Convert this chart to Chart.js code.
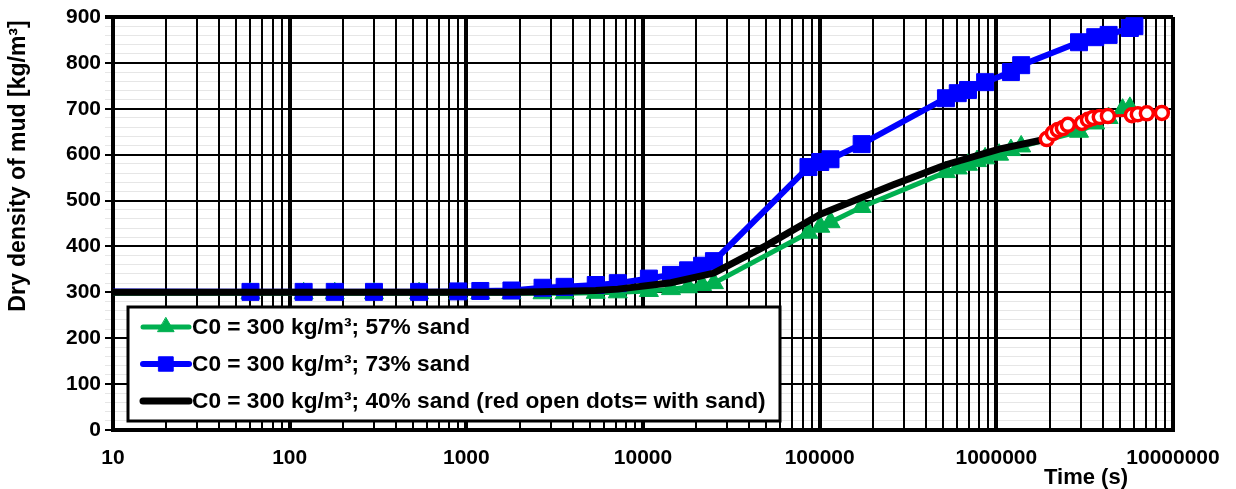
<!DOCTYPE html>
<html>
<head>
<meta charset="utf-8">
<script src="https://cdn.jsdelivr.net/npm/chart.js@4.4.1/dist/chart.umd.min.js"></script>
<style>
    html, body { margin: 0; padding: 0; background: #fff; }
</style>
</head>
<body>
<canvas id="densityChart" width="1236" height="489"></canvas>
<script>
const FONT = '"Liberation Sans", Arial, sans-serif';

// x axis (log) decades and labels
const xDecades = [10, 100, 1000, 10000, 100000, 1000000, 10000000];
const xTickLabels = ['10', '100', '1000', '10000', '100000', '1000000', '10000000'];

// 57% sand (green triangles)
const sand57Time = [1, 60, 120, 180, 300, 540, 900, 1200, 1800, 2700, 3600, 5400, 7200, 10800, 14400, 18000, 21600, 25200,
    86400, 100800, 115200, 172800, 518400, 604800, 691200, 777600, 864000, 1036800, 1209600, 1382400,
    2937600, 3628800, 4320000, 5184000, 5702400];
const sand57Density = [298, 298, 298, 298, 298, 298, 298, 298, 298, 298, 298, 299, 300, 303, 307, 311, 316, 320,
    430, 443, 453, 486, 562, 570, 578, 586, 592, 600, 610, 618,
    650, 668, 680, 698, 702];

// 73% sand (blue squares)
const sand73Time = [1, 60, 120, 180, 300, 540, 900, 1200, 1800, 2700, 3600, 5400, 7200, 10800, 14400, 18000, 21600, 25200,
    86400, 100800, 115200, 172800, 518400, 604800, 691200, 864000, 1209600, 1382400,
    2937600, 3628800, 4320000, 5702400, 6048000];
const sand73Density = [303, 301, 301, 301, 301, 301, 302, 303, 304, 310, 312, 316, 320, 330, 338, 348, 358, 368,
    573, 584, 590, 623, 723, 734, 741, 758, 780, 795,
    845, 856, 861, 876, 880];

// 40% sand (black line)
const sand40Time = [10, 1800, 2700, 5400, 7200, 14400, 25200, 50400, 100800, 259200, 518400, 1036800, 1814400];
const sand40Density = [300, 300, 301, 304, 307, 321, 342, 403, 470, 534, 578, 612, 632];

// 40% sand with sand (red open dots)
const withSandTime = [1930000, 2090000, 2230000, 2380000, 2540000, 3050000, 3300000, 3520000, 3850000, 4280000,
    5850000, 6320000, 7110000, 8650000];
const withSandDensity = [634, 647, 654, 658, 665, 669, 676, 680, 682, 684, 686, 688, 690, 691];

const toPoints = (xs, ys) => xs.map((x, i) => ({ x: x, y: ys[i] }));

const overlayPlugin = {
    id: 'overlay',
    afterDatasetsDraw(chart) {
        const ctx = chart.ctx;
        ctx.save();
        // legend box inside plot
        ctx.fillStyle = '#fff';
        ctx.fillRect(128, 307, 652, 114);
        ctx.lineWidth = 3;
        ctx.strokeStyle = '#000';
        ctx.strokeRect(128, 307, 652, 114);

        const rows = [327, 364, 401];
        const items = chart.data.datasets.filter(d => !d.hideInLegend);
        ctx.font = 'bold 22.7px ' + FONT;
        ctx.textBaseline = 'middle';
        ctx.textAlign = 'left';
        items.forEach((ds, i) => {
            const y = rows[i];
            ctx.beginPath();
            ctx.lineCap = 'round';
            ctx.lineWidth = ds.borderWidth;
            ctx.strokeStyle = ds.borderColor;
            ctx.moveTo(143, y);
            ctx.lineTo(189, y);
            ctx.stroke();
            if (ds.pointRadius > 0) {
                ctx.fillStyle = ds.pointBackgroundColor;
                ctx.strokeStyle = ds.pointBorderColor;
                ctx.lineWidth = 1;
                Chart.helpers.drawPoint(ctx, { pointStyle: ds.pointStyle, radius: ds.pointRadius * 0.85, borderWidth: 1, rotation: 0 }, 166, y);
            }
            ctx.fillStyle = '#000';
            ctx.fillText(ds.label, 192, y + 1);
        });
        ctx.restore();
    },
    afterDraw(chart) {
        const ctx = chart.ctx;
        ctx.save();
        ctx.fillStyle = '#000';
        ctx.font = 'bold 23px ' + FONT;
        ctx.textAlign = 'center';
        ctx.textBaseline = 'middle';
        ctx.translate(19, 166);
        ctx.rotate(-Math.PI / 2);
        ctx.fillText('Dry density of mud [kg/m³]', 0, 0);
        ctx.restore();

        ctx.save();
        ctx.fillStyle = '#000';
        ctx.font = 'bold 22px ' + FONT;
        ctx.textAlign = 'right';
        ctx.textBaseline = 'middle';
        ctx.fillText('Time (s)', 1128, 478);
        ctx.restore();
    }
};

const ctx = document.getElementById('densityChart').getContext('2d');
new Chart(ctx, {
    type: 'line',
    data: {
        datasets: [
            {
                label: 'C0 = 300 kg/m³; 57% sand',
                data: toPoints(sand57Time, sand57Density),
                borderColor: '#00b050',
                borderWidth: 5,
                pointStyle: 'triangle',
                pointRadius: 11,
                pointBackgroundColor: '#00b050',
                pointBorderColor: '#00b050',
                pointBorderWidth: 1,
                order: 3
            },
            {
                label: 'C0 = 300 kg/m³; 73% sand',
                data: toPoints(sand73Time, sand73Density),
                borderColor: '#0000ff',
                borderWidth: 6,
                pointStyle: 'rect',
                pointRadius: 12,
                pointBackgroundColor: '#0000ff',
                pointBorderColor: '#0000ff',
                pointBorderWidth: 1,
                order: 2
            },
            {
                label: 'C0 = 300 kg/m³; 40% sand (red open dots= with sand)',
                data: toPoints(sand40Time, sand40Density),
                borderColor: '#000000',
                borderWidth: 7,
                pointRadius: 0,
                order: 1
            },
            {
                label: 'with sand',
                hideInLegend: true,
                data: toPoints(withSandTime, withSandDensity),
                borderColor: '#ff0000',
                borderWidth: 3,
                pointStyle: 'circle',
                pointRadius: 6.5,
                pointBackgroundColor: '#ffffff',
                pointBorderColor: '#ff0000',
                pointBorderWidth: 3.5,
                order: 0
            }
        ]
    },
    options: {
        responsive: false,
        devicePixelRatio: 1,
        animation: false,
        clip: { left: 0, top: 12, right: 12, bottom: 12 },
        layout: { padding: { top: 17, right: 63, left: 0, bottom: 0 } },
        plugins: {
            legend: { display: false },
            tooltip: { enabled: false }
        },
        scales: {
            x: {
                type: 'logarithmic',
                min: 10,
                max: 10000000,
                afterBuildTicks: scale => {
                    const ticks = [];
                    xDecades.forEach((d, i) => {
                        ticks.push({ value: d, major: true });
                        if (i < xDecades.length - 1) {
                            for (let s = 2; s <= 9; s++) ticks.push({ value: s * d });
                        }
                    });
                    scale.ticks = ticks;
                },
                afterFit: scale => { scale.height = 59; },
                ticks: {
                    autoSkip: false,
                    maxRotation: 0,
                    padding: 16,
                    color: '#000',
                    font: { family: FONT, size: 21, weight: 'bold' },
                    callback: value => {
                        const i = xDecades.indexOf(value);
                        return i >= 0 ? xTickLabels[i] : '';
                    }
                },
                grid: {
                    z: -1,
                    color: '#000',
                    drawTicks: false,
                    lineWidth: c => (xDecades.includes(c.tick.value) ? 4 : 2)
                },
                border: { display: true, color: '#000', width: 4 }
            },
            y: {
                min: 0,
                max: 900,
                afterBuildTicks: scale => {
                    const ticks = [];
                    for (let v = 0; v <= 900; v += 20) ticks.push({ value: v });
                    scale.ticks = ticks;
                },
                afterFit: scale => { scale.width = 113; },
                ticks: {
                    autoSkip: false,
                    padding: 4,
                    color: '#000',
                    font: { family: FONT, size: 21, weight: 'bold' },
                    callback: value => (value % 100 === 0 ? String(value) : '')
                },
                grid: {
                    z: -2,
                    tickLength: 8,
                    color: c => (c.tick.value % 100 === 0 ? '#000' : '#e6e6e6'),
                    lineWidth: c => (c.tick.value === 900 ? 4 : (c.tick.value % 100 === 0 ? 2 : 1))
                },
                border: { display: true, color: '#000', width: 4 }
            }
        }
    },
    plugins: [overlayPlugin]
});
</script>
</body>
</html>
